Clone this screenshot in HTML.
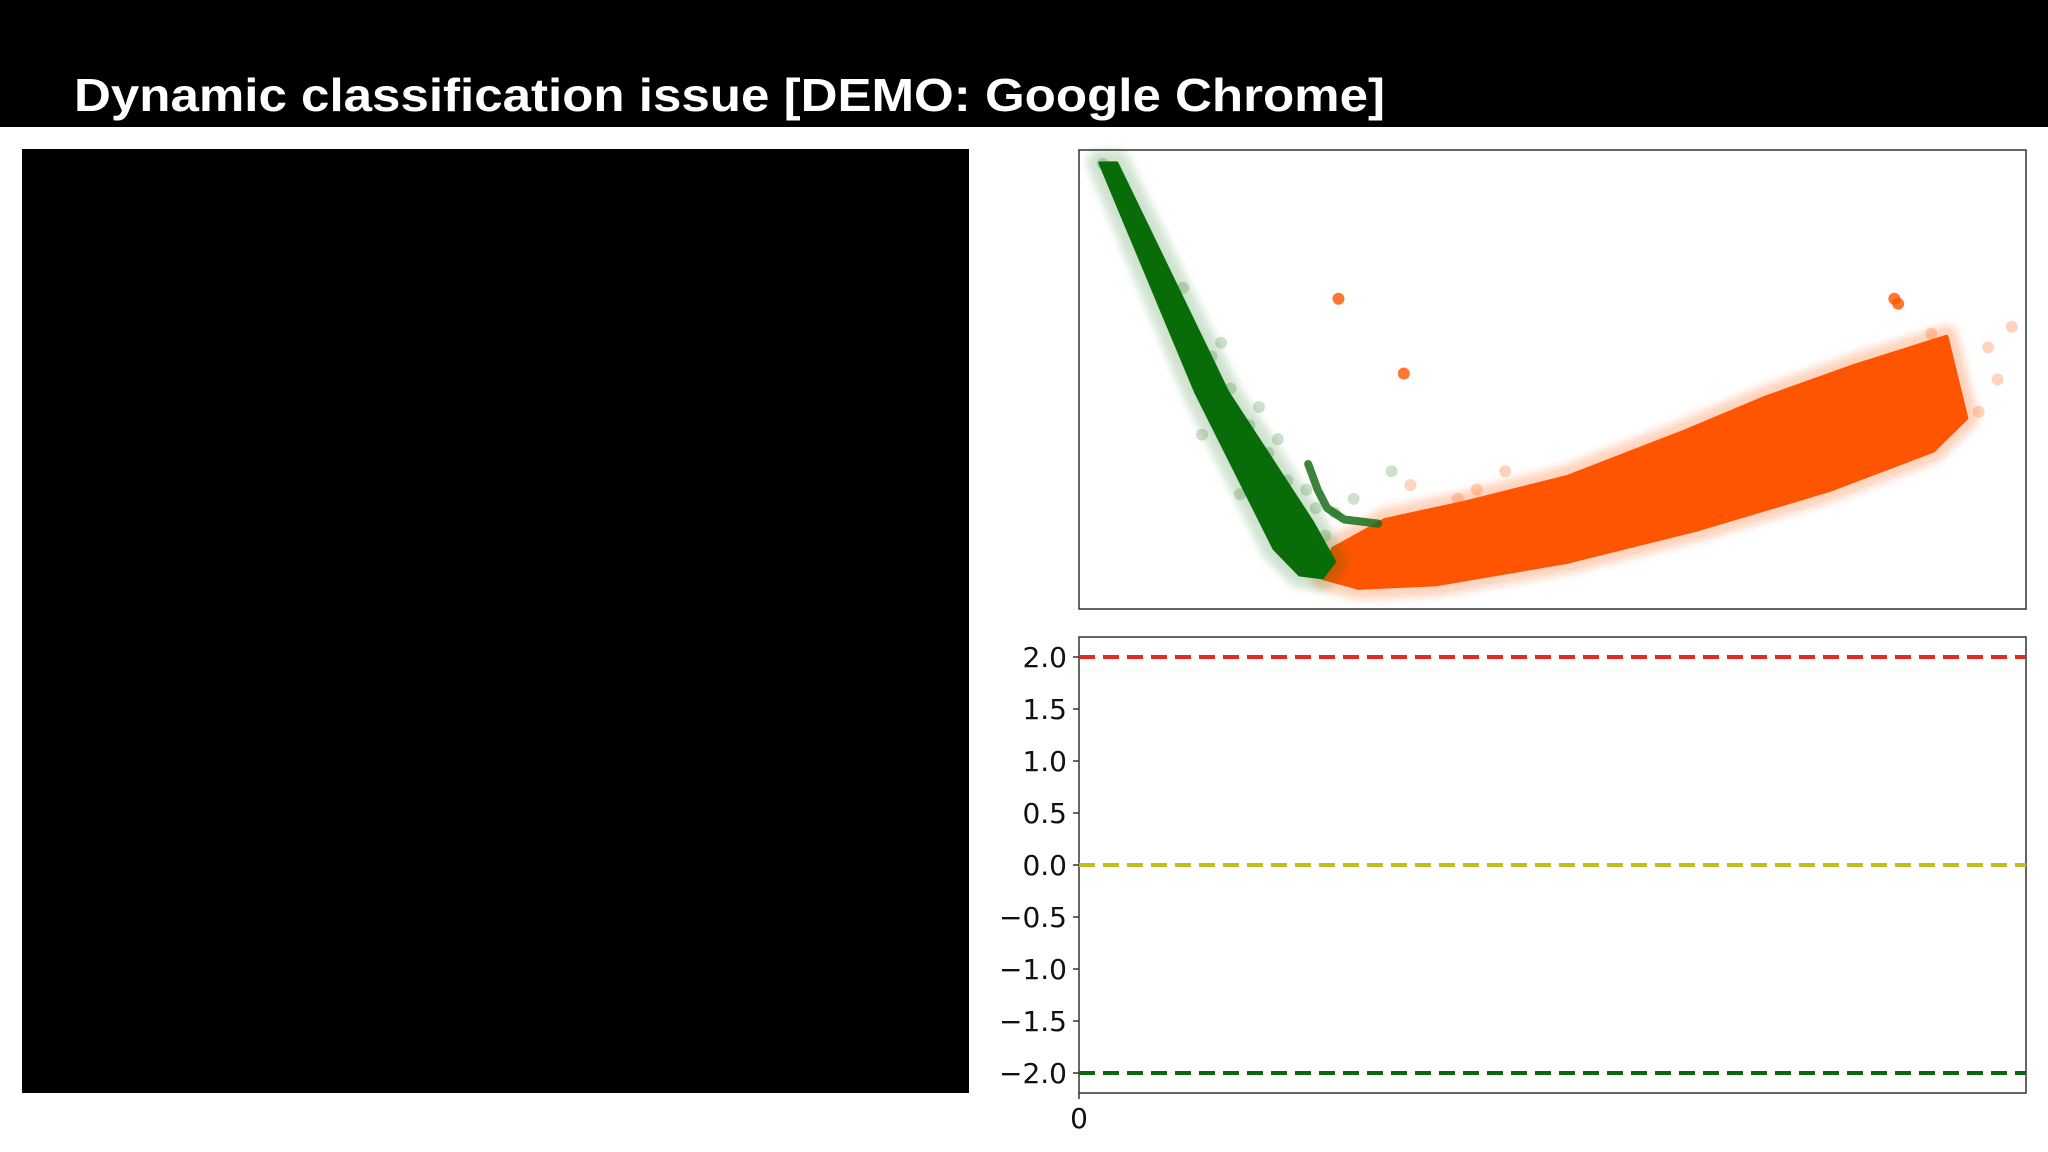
<!DOCTYPE html>
<html><head><meta charset="utf-8"><style>
html,body{margin:0;padding:0;background:#fff;width:2048px;height:1152px;overflow:hidden}
svg{display:block}
</style></head><body>
<svg id="root" width="2048" height="1152" xmlns="http://www.w3.org/2000/svg" font-family="Liberation Sans, sans-serif">
<defs>
<filter id="soft" x="-10%" y="-10%" width="120%" height="120%"><feGaussianBlur stdDeviation="4"/></filter>
</defs>
<rect x="0" y="0" width="2048" height="127" fill="#000"/>
<text x="74" y="111" font-size="46" font-weight="bold" fill="#fff" textLength="1311" lengthAdjust="spacingAndGlyphs">Dynamic classification issue [DEMO: Google Chrome]</text>
<rect x="22" y="149" width="947" height="944" fill="#000"/>
<g id="scatter"></g>
<rect x="1079" y="150" width="947" height="459" fill="none" stroke="#333" stroke-width="1.5"/>
<g id="lines"></g>
</svg>
<script>
// ---- scatter data (data domain 0..100 each axis) ----
const greenBandX = [2.2, 12.3, 20.6, 23.3, 25.7, 27.0, 24.7, 15.7, 4.0];
const greenBandY = [97.2, 47.3, 13.1, 7.4, 6.8, 10.3, 18.8, 47.3, 97.2];
const greenTailX = [24.2, 25.2, 26.2, 28.0, 31.6];
const greenTailY = [31.6, 26.0, 22.0, 19.5, 18.6];
const orangeX = [25.7, 29.5, 37.8, 51.6, 65.4, 79.2, 90.2, 93.7, 91.6, 81.9, 72.3, 64.0, 51.6, 40.6, 32.3, 26.8];
const orangeY = [6.8, 4.6, 5.4, 10.3, 17.4, 25.9, 34.5, 41.6, 59.3, 53.0, 45.9, 38.7, 28.8, 23.1, 19.4, 13.1];
const gDotX = [10, 14, 16, 18, 13, 20, 22, 17, 19, 21, 25, 33, 15, 23, 27, 2.5, 11, 12, 9, 18.5, 24, 26, 29, 16.5, 20, 7, 14.5];
const gDotY = [62, 55, 48, 40, 38, 34, 28, 25, 44, 37, 22, 30, 58, 19, 21, 97, 70, 52, 66, 31, 26, 16, 24, 42, 20, 80, 46];
const oDotX = [27.4, 34.3, 86.1, 86.5, 98.5, 84, 80, 95, 96, 90, 40, 45, 60, 70, 35, 50, 36, 42, 55, 97];
const oDotY = [67.6, 51.3, 67.6, 66.5, 61.5, 45, 39, 43, 57, 60, 24, 30, 33, 38, 27, 25, 20, 26, 30, 50];
// ---- score chart data ----
const yTicks = [2.0, 1.5, 1.0, 0.5, 0.0, -0.5, -1.0, -1.5, -2.0];
const yTickLabels = ["2.0", "1.5", "1.0", "0.5", "0.0", "\u22120.5", "\u22121.0", "\u22121.5", "\u22122.0"];
const thresholdValues = [2.0, 0.0, -2.0];
const thresholdColors = ["#e8281c", "#bfbf1a", "#0a6a0a"];
const xTickLabels = ["0"];

const NS = "http://www.w3.org/2000/svg";
function mk(tag, attrs, parent){const e=document.createElementNS(NS,tag);for(const k in attrs)e.setAttribute(k,attrs[k]);parent.appendChild(e);return e;}
const sx = v => 1079 + v/100*947;
const sy = v => 609 - v/100*459;
const sc = document.getElementById('scatter');
// orange mass
let pts = orangeX.map((x,i)=>sx(x)+','+sy(orangeY[i])).join(' ');
let op = mk('polygon',{points:pts,fill:'#ff5500',stroke:'#ff5500','stroke-width':'24','stroke-linejoin':'round',opacity:'0.25',filter:'url(#soft)'},sc);


let op2 = mk('polygon',{points:pts,fill:'#ff5500',stroke:'#ff5500','stroke-width':'4','stroke-linejoin':'round'},sc);


// green band
let gpts = greenBandX.map((x,i)=>sx(x)+','+sy(greenBandY[i])).join(' ');
let gh = mk('polygon',{points:gpts,fill:'#0a6a0a',stroke:'#0a6a0a','stroke-width':'26','stroke-opacity':'0.5','fill-opacity':'0.5','stroke-linejoin':'round',opacity:'0.35',filter:'url(#soft)'},sc);


let gb = mk('polygon',{points:gpts,fill:'#086c08',stroke:'#086c08','stroke-width':'3','stroke-linejoin':'round'},sc);


let tpts = greenTailX.map((x,i)=>sx(x)+','+sy(greenTailY[i])).join(' ');
let gt = mk('polyline',{points:tpts,fill:'none',stroke:'#1a6e1a','stroke-width':'8','stroke-linecap':'round','stroke-linejoin':'round','stroke-opacity':'0.85'},sc);


gDotX.forEach((x,i)=>{const c=mk('circle',{cx:sx(x),cy:sy(gDotY[i]),r:6,fill:'#0a6a0a','fill-opacity':'0.2'},sc);

});
oDotX.forEach((x,i)=>{const c=mk('circle',{cx:sx(x),cy:sy(oDotY[i]),r:6,fill:'#ff5500','fill-opacity':i<4?'0.8':'0.25'},sc);

});

// score chart
const L=1079,R=2026,T=637,B=1093;
const ly = v => 865 - v*(865-657)/2;
const g = document.getElementById('lines');
const fr = mk('rect',{x:L,y:T,width:R-L,height:B-T,fill:'#fff',stroke:'#333','stroke-width':'1.5'},g);


thresholdValues.forEach((v,i)=>{const l=mk('line',{x1:L,x2:R,y1:ly(v),y2:ly(v),stroke:thresholdColors[i],'stroke-width':'4','stroke-dasharray':'16 8'},g);

});
yTicks.forEach((v,i)=>{
 const t=mk('line',{x1:L-6,x2:L,y1:ly(v),y2:ly(v),stroke:'#333','stroke-width':'1.5'},g);
 
 
 const tx=mk('text',{x:L-12,y:ly(v)+10,'font-family':'DejaVu Sans, sans-serif','font-size':'28','text-anchor':'end',fill:'#111'},g);
 tx.textContent=yTickLabels[i];
 
 
});
xTickLabels.forEach((s,i)=>{
 const t=mk('line',{x1:L,x2:L,y1:B,y2:B+6,stroke:'#333','stroke-width':'1.5'},g);
 
 
 const tx=mk('text',{x:L,y:B+35,'font-family':'DejaVu Sans, sans-serif','font-size':'28','text-anchor':'middle',fill:'#111'},g);
 tx.textContent=s;
 
 
});
</script>
</body></html>
